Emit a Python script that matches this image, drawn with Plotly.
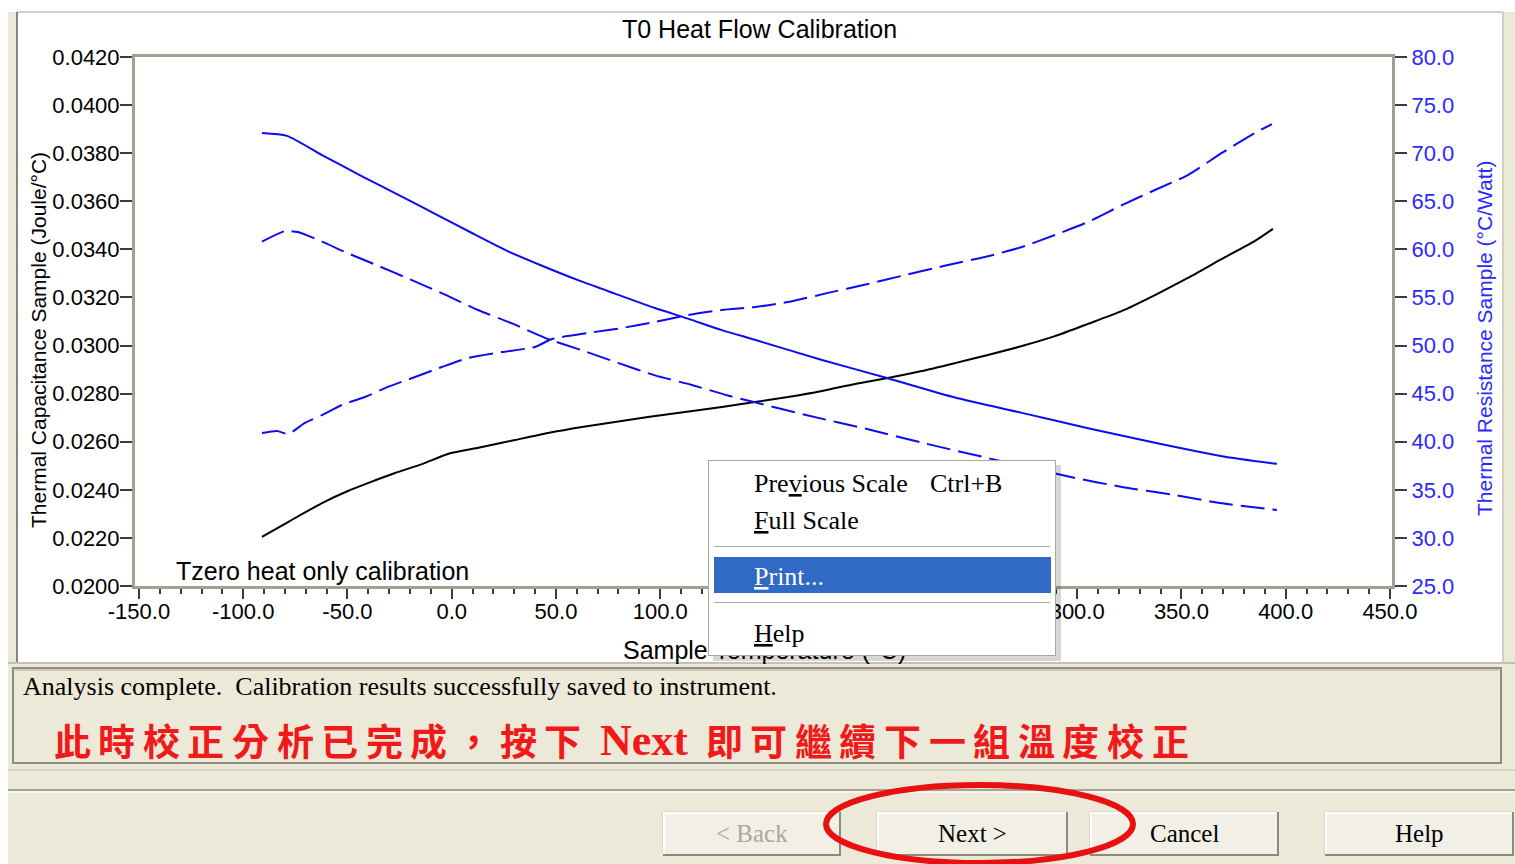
import plotly.graph_objects as go

W, H = 1515, 864

# ---- T0 heat flow calibration results --------------------------------
# thermal capacitance, sample (Joule/°C)
temp_cap_sample = [-91.0, -78.5, -62.2, -49.8, -40.2, -27.2, -14.3, -1.8, 14.5, 30.3,
                   46.2, 62.5, 78.3, 94.1, 111.9, 129.6, 145.4, 161.3, 177.6, 193.4,
                   209.2, 225.5, 241.4, 257.2, 273.5, 289.3, 305.2, 321.5, 337.3, 353.1,
                   369.4, 385.3, 393.9]
cap_sample = [0.02204, 0.02266, 0.02345, 0.02395, 0.02428, 0.02470, 0.02507, 0.02549, 0.02578, 0.02607,
              0.02636, 0.02661, 0.02682, 0.02703, 0.02724, 0.02744, 0.02765, 0.02786, 0.02811, 0.02840,
              0.02865, 0.02894, 0.02927, 0.02961, 0.02998, 0.03039, 0.03090, 0.03144, 0.03210, 0.03281,
              0.03360, 0.03435, 0.03485]

# thermal capacitance, reference (Joule/°C)
temp_cap_ref = [-91.0, -83.8, -78.5, -70.4, -62.2, -52.6, -41.6, -30.6, -17.6, -4.7,
                7.8, 24.1, 39.9, 48.1, 65.3, 81.7, 97.5, 113.3, 129.6, 145.4,
                161.3, 180.5, 199.6, 217.4, 238.0, 255.7, 273.5, 289.3, 305.2, 321.5,
                337.3, 353.1, 369.4, 385.3, 393.4]
cap_ref = [0.02636, 0.02645, 0.02632, 0.02678, 0.02711, 0.02753, 0.02786, 0.02828, 0.02869, 0.02911,
           0.02948, 0.02973, 0.02994, 0.03027, 0.03052, 0.03073, 0.03098, 0.03127, 0.03148, 0.03160,
           0.03181, 0.03219, 0.03256, 0.03293, 0.03335, 0.03368, 0.03410, 0.03460, 0.03514, 0.03584,
           0.03647, 0.03709, 0.03801, 0.03884, 0.03921]

# thermal resistance, sample (°C/Watt)
temp_res_sample = [-91.0, -79.0, -62.2, -43.0, -25.8, -8.0, 9.7, 27.0, 43.3, 60.6,
                   78.3, 97.5, 113.3, 129.6, 145.4, 177.6, 209.2, 241.4, 273.5, 305.2,
                   337.3, 369.4, 395.8]
res_sample = [72.1, 71.8, 69.8, 67.6, 65.7, 63.7, 61.7, 59.8, 58.3, 56.8,
              55.4, 53.9, 52.8, 51.6, 50.6, 48.5, 46.6, 44.6, 43.0, 41.4,
              39.9, 38.5, 37.7]

# thermal resistance, reference (°C/Watt)
temp_res_ref = [-91.0, -80.0, -73.7, -62.2, -49.8, -35.4, -19.1, -3.2, 12.6, 28.9,
                44.7, 62.5, 79.7, 97.5, 115.2, 132.5, 145.4, 169.4, 201.6, 225.5,
                257.2, 297.5, 321.5, 345.4, 369.4, 395.8]
res_ref = [60.8, 61.9, 61.8, 60.8, 59.6, 58.3, 56.8, 55.3, 53.7, 52.3,
           50.8, 49.5, 48.2, 46.9, 45.9, 44.8, 44.1, 42.8, 41.2, 39.9,
           38.3, 36.3, 35.3, 34.5, 33.6, 32.9]

x_ticks = [-150, -100, -50, 0, 50, 100, 150, 200, 250, 300, 350, 400, 450]
x_tick_labels = ["-150.0", "-100.0", "-50.0", "0.0", "50.0", "100.0", "150.0",
                 "200.0", "250.0", "300.0", "350.0", "400.0", "450.0"]
x_minor_ticks = list(range(-150, 451, 10))
cap_ticks = [0.020, 0.022, 0.024, 0.026, 0.028, 0.030, 0.032, 0.034, 0.036, 0.038, 0.040, 0.042]
cap_tick_labels = ["0.0200", "0.0220", "0.0240", "0.0260", "0.0280", "0.0300",
                   "0.0320", "0.0340", "0.0360", "0.0380", "0.0400", "0.0420"]
res_ticks = [25, 30, 35, 40, 45, 50, 55, 60, 65, 70, 75, 80]
res_tick_labels = ["25.0", "30.0", "35.0", "40.0", "45.0", "50.0",
                   "55.0", "60.0", "65.0", "70.0", "75.0", "80.0"]

# ---- styling ---------------------------------------------------------
SANS = "Liberation Sans"
SERIF = "Liberation Serif"
CJK = "Noto Sans CJK TC"
BLUE = "#0c0cf2"
AXIS_BLUE = "#2a2aff"
FRAME = "#a29f93"
TICK = "#3c3c3c"
BEIGE = "#ece9d8"
RED = "#f01a1a"


def fx(px):
    return px / W


def fy(py):
    return 1 - py / H


def rect(x0, y0, x1, y1, fill=None, line=None, width=0, layer="below"):
    return dict(type="rect", xref="paper", yref="paper",
                x0=fx(x0), x1=fx(x1), y0=fy(y1), y1=fy(y0),
                fillcolor=fill or "rgba(0,0,0,0)",
                line=dict(color=line or "rgba(0,0,0,0)", width=width), layer=layer)


def seg(x0, y0, x1, y1, color, width=1, layer="below"):
    return dict(type="line", xref="paper", yref="paper",
                x0=fx(x0), x1=fx(x1), y0=fy(y0), y1=fy(y1),
                line=dict(color=color, width=width), layer=layer)


def label(text, x, y, size, color="#000000", family=SANS, xanchor="center",
          yanchor="middle", angle=0):
    return dict(text=text, x=fx(x), y=fy(y), xref="paper", yref="paper",
                showarrow=False, xanchor=xanchor, yanchor=yanchor, textangle=angle,
                font=dict(size=size, color=color, family=family))


def panel(x0, y0, x1, y1, fill, border=None, bw=0):
    # plain box drawn in the annotation layer so it sits above the plot
    return dict(text=" ", x=fx(x0), y=fy(y0), xref="paper", yref="paper",
                showarrow=False, xanchor="left", yanchor="top",
                width=max(x1 - x0 - 2 * bw, 1), height=max(y1 - y0 - 2 * bw, 1),
                bgcolor=fill, bordercolor=border or fill, borderwidth=bw,
                borderpad=0, font=dict(size=1, color=fill))


fig = go.Figure()

smooth = dict(shape="spline", smoothing=0.6)
fig.add_trace(go.Scatter(x=temp_cap_sample, y=cap_sample, mode="lines", yaxis="y",
                         line=dict(color="#000000", width=2, **smooth),
                         name="Capacitance Sample"))
fig.add_trace(go.Scatter(x=temp_cap_ref, y=cap_ref, mode="lines", yaxis="y",
                         line=dict(color=BLUE, width=2, dash="24px,8px", **smooth),
                         name="Capacitance Reference"))
fig.add_trace(go.Scatter(x=temp_res_sample, y=res_sample, mode="lines", yaxis="y2",
                         line=dict(color=BLUE, width=2, **smooth),
                         name="Resistance Sample"))
fig.add_trace(go.Scatter(x=temp_res_ref, y=res_ref, mode="lines", yaxis="y2",
                         line=dict(color=BLUE, width=2, dash="24px,8px", **smooth),
                         name="Resistance Reference"))

tick_font = dict(family=SANS, size=22, color="#000000")

fig.update_layout(
    width=W, height=H, autosize=False,
    margin=dict(l=0, r=0, t=0, b=0),
    paper_bgcolor="#ffffff", plot_bgcolor="#ffffff",
    showlegend=False, hovermode=False,
    xaxis=dict(domain=[fx(135), fx(1392)], range=[-151.9, 451.0],
               tickmode="array", tickvals=x_ticks, ticktext=x_tick_labels,
               ticks="outside", ticklen=10, tickwidth=2, tickcolor=TICK,
               ticklabelstandoff=-6,
               minor=dict(tickmode="array", tickvals=x_minor_ticks, ticks="outside",
                          ticklen=5, tickwidth=2, tickcolor=TICK, showgrid=False),
               showline=True, linecolor=FRAME, linewidth=3, mirror=True,
               showgrid=False, zeroline=False, tickfont=tick_font,
               automargin=False, fixedrange=True),
    yaxis=dict(domain=[fy(586), fy(57)], range=[0.020, 0.042],
               tickmode="array", tickvals=cap_ticks, ticktext=cap_tick_labels,
               ticks="outside", ticklen=12, tickwidth=2, tickcolor=TICK,
               ticklabelstandoff=-4,
               showline=True, linecolor=FRAME, linewidth=3,
               showgrid=False, zeroline=False, tickfont=tick_font,
               automargin=False, fixedrange=True),
    yaxis2=dict(overlaying="y", side="right", anchor="x", range=[25, 80],
                tickmode="array", tickvals=res_ticks, ticktext=res_tick_labels,
                ticks="outside", ticklen=12, tickwidth=2, tickcolor=TICK,
                showline=True, linecolor=FRAME, linewidth=3,
                showgrid=False, zeroline=False,
                tickfont=dict(family=SANS, size=22, color=AXIS_BLUE),
                automargin=False, fixedrange=True),
)

# ---- window chrome ---------------------------------------------------
shapes = [
    rect(8, 12, 17, 864, fill=BEIGE),
    rect(1504, 12, 1515, 864, fill=BEIGE),
    rect(8, 663, 1515, 864, fill=BEIGE),
    seg(17, 12, 1503, 12, "#d2cfc3", 2),
    seg(17, 12, 17, 663, "#85837a", 2),
    seg(1503, 12, 1503, 663, "#d2cfc3", 2),
    seg(8, 663, 1515, 663, "#c4c1b4", 2),
    # status box
    rect(13, 668, 1501, 763, fill=BEIGE, line="#8f8d82", width=2),
    seg(15, 670, 1499, 670, "#a7a498", 1),
    seg(8, 770, 1515, 770, "#d8d5c8", 2),
    seg(8, 790, 1515, 790, "#a5a294", 2),
    seg(8, 792, 1515, 792, "#ffffff", 1),
]

buttons = [(663, 840, "< Back", "#aca899"), (877, 1067, "Next >", "#000000"),
           (1090, 1278, "Cancel", "#000000"), (1325, 1513, "Help", "#000000")]
for bx0, bx1, _, _ in buttons:
    shapes.append(rect(bx0, 812, bx1, 855, fill="#f1efe6", line="#c9c6b8", width=1))
    shapes.append(seg(bx0, 813, bx1, 813, "#ffffff", 2))
    shapes.append(seg(bx0 + 1, 812, bx0 + 1, 855, "#ffffff", 2))
    shapes.append(seg(bx0, 855, bx1, 855, "#8c897d", 2))
    shapes.append(seg(bx1, 812, bx1, 856, "#8c897d", 2))

# red highlight around the Next button
shapes.append(dict(type="circle", xref="paper", yref="paper",
                   x0=fx(826), x1=fx(1133), y0=fy(863), y1=fy(785),
                   line=dict(color="#e81010", width=6), layer="above"))

annotations = [
    label("T0 Heat Flow Calibration", 759, 29, 25),
    label("Thermal Capacitance Sample (Joule/°C)", 38, 340, 21, angle=-90),
    label("Thermal Resistance Sample (°C/Watt)", 1484, 339, 21, color=AXIS_BLUE, angle=-90),
    label("Tzero heat only calibration", 174, 571, 25, xanchor="left"),
    label("Sample Temperature (°C)", 621, 650, 25, xanchor="left"),
]

# context menu over the plot
annotations += [
    panel(713, 465, 1061, 661, "rgba(0,0,0,0.16)"),
    panel(708, 460, 1056, 656, "#ffffff", border="#aca899", bw=1),
    panel(714, 546, 1050, 547, "#aca899"),
    panel(714, 557, 1051, 593, "#316ac5"),
    panel(714, 602, 1050, 603, "#aca899"),
    label("Pre<u>v</u>ious Scale", 752, 483, 26, family=SERIF, xanchor="left"),
    label("Ctrl+B", 928, 483, 26, family=SERIF, xanchor="left"),
    label("<u>F</u>ull Scale", 752, 520, 26, family=SERIF, xanchor="left"),
    label("<u>P</u>rint...", 752, 576, 26, color="#ffffff", family=SERIF, xanchor="left"),
    label("<u>H</u>elp", 752, 633, 26, family=SERIF, xanchor="left"),
]

# status line and note
annotations.append(label("Analysis complete.\u00a0 Calibration results successfully saved to instrument.",
                         21, 686, 26, family=SERIF, xanchor="left"))
note_head = "此時校正分析已完成，按下"
note_tail = "即可繼續下一組溫度校正"
step = 44.6
for i, ch in enumerate(note_head):
    annotations.append(label("<b>" + ch + "</b>", 72 + i * step, 740, 37, color=RED, family=CJK))
annotations.append(label("<b>Next</b>", 644, 740, 44, color=RED, family=SERIF))
for i, ch in enumerate(note_tail):
    annotations.append(label("<b>" + ch + "</b>", 724 + i * step, 740, 37, color=RED, family=CJK))

for bx0, bx1, text, color in buttons:
    annotations.append(label(text, (bx0 + bx1) / 2, 833, 25, color=color, family=SERIF))

fig.update_layout(shapes=shapes, annotations=annotations)

fig.write_html("out.html", config={"displayModeBar": False, "staticPlot": True})
